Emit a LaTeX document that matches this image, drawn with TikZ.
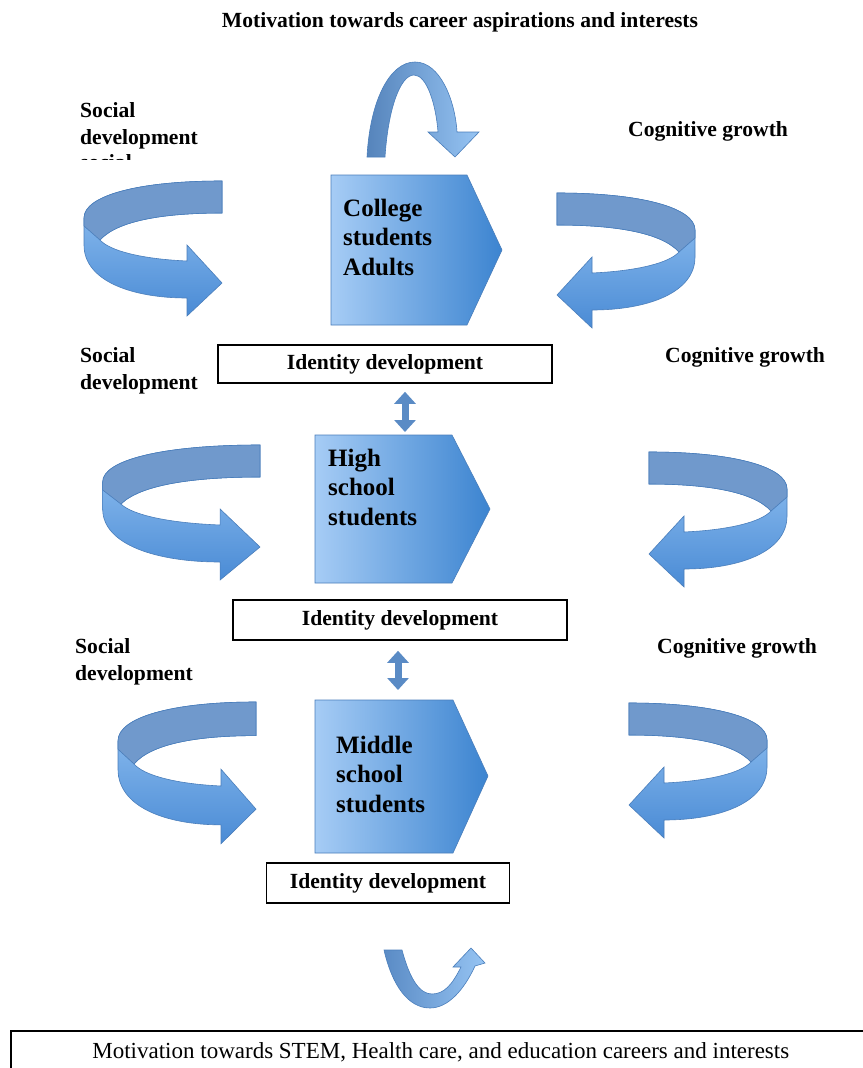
\documentclass[tikz,border=0pt]{standalone}
\usepackage{fontspec}
\setmainfont{Liberation Serif}
\usetikzlibrary{arrows.meta}

\definecolor{shapeline}{HTML}{4A7EBB}
\definecolor{stageleft}{HTML}{A6CCF5}
\definecolor{stageright}{HTML}{3C84D0}
\definecolor{frontlight}{HTML}{96C4F3}
\definecolor{frontdark}{HTML}{4A8BD5}
\definecolor{backband}{HTML}{7099CC}
\definecolor{arrowblue}{HTML}{5A8BC5}

\begin{document}
\begin{tikzpicture}[x=1pt,y=-1pt,
  label text/.style={font=\fontsize{21.6}{27}\selectfont\bfseries,align=left,anchor=west,inner sep=0pt},
  stage text/.style={font=\fontsize{25}{29.5}\selectfont\bfseries,align=left,anchor=west,inner sep=0pt},
  id box/.style={draw,line width=1.6pt,inner sep=0pt,font=\fontsize{21.6}{26}\selectfont\bfseries},
  stage/.style={draw=shapeline,line width=0.6pt,left color=stageleft,right color=stageright},
  front/.style={draw=shapeline,line width=0.6pt,top color=frontlight,bottom color=frontdark},
  back/.style={draw=shapeline,line width=0.6pt,fill=backband},
  twoway/.style={{Triangle[width=21pt,length=12pt]}-{Triangle[width=21pt,length=12pt]},line width=7pt,draw=arrowblue},
  turnarrow/.pic={
    \path[front] (0,0) .. controls (-85,0) and (-138,15) .. (-138,37) -- (-138,64)
      .. controls (-138,100) and (-90,117) .. (-35,117) -- (-35,135) -- (0,102) -- (-35,64) -- (-35,80)
      .. controls (-80,78) and (-112,70) .. (-122,59) .. controls (-105,40) and (-60,32) .. (0,32) -- cycle;
    \path[back] (0,0) .. controls (-85,0) and (-138,15) .. (-138,37) -- (-138,45) -- (-122,59)
      .. controls (-105,40) and (-60,32) .. (0,32) -- cycle;
  }]

\useasboundingbox[fill=white] (0,0) rectangle (862,1068);

% top text and arc arrow
\node[label text,anchor=center] (title) at (460,22) {Motivation towards career aspirations and interests};
\path[draw=shapeline,line width=0.6pt,left color=arrowblue!95!black,right color=frontlight]
  (367,157) .. controls (370,100) and (390,62) .. (415,62) .. controls (440,62) and (455,100) .. (457,132)
  -- (479,132) -- (455,157) -- (428,132) -- (438,132)
  .. controls (436,105) and (427,75) .. (414,75) .. controls (400,75) and (388,110) .. (385,157) -- cycle;

% stages
\path[stage] (331,175) -- (467,175) -- (502,250) -- (467,325) -- (331,325) -- cycle;
\path[stage] (315,435) -- (452,435) -- (490,509) -- (452,583) -- (315,583) -- cycle;
\path[stage] (315,700) -- (453,700) -- (488,776) -- (453,853) -- (315,853) -- cycle;
\coordinate (hightop) at (405,435);
\coordinate (middletop) at (398,700);

\node[stage text] (college) at (343,237) {College\\students\\Adults};
\node[stage text] (high) at (328,487) {High\\school\\students};
\node[stage text] (middle) at (336,774) {Middle\\school\\students};

% side arrows
\pic at (222,181) {turnarrow};
\pic[xscale=-1] at (557,193) {turnarrow};
\pic[xscale=1.14] at (260,445) {turnarrow};
\pic[xscale=-1] at (649,452) {turnarrow};
\pic[yscale=1.05] at (256,702) {turnarrow};
\pic[xscale=-1] at (629,703) {turnarrow};

% side labels
\node[label text] (social1) at (80,126) {Social\\development};
\begin{scope}
  \clip (60,150) rectangle (220,159.5);
  \node[label text,anchor=base west] (socialcut) at (80,169) {social};
\end{scope}
\node[label text] (cognitive1) at (628,131) {Cognitive growth};
\node[label text] (social2) at (80,371) {Social\\development};
\node[label text] (cognitive2) at (665,357) {Cognitive growth};
\node[label text] (social3) at (75,662) {Social\\development};
\node[label text] (cognitive3) at (657,648) {Cognitive growth};

% identity boxes
\node[id box,minimum width=334pt,minimum height=38pt] (idbox1) at (385,364) {Identity development};
\node[id box,minimum width=334pt,minimum height=40pt] (idbox2) at (400,620) {Identity development};
\node[id box,minimum width=243pt,minimum height=40pt] (idbox3) at (388,883) {Identity development};

\draw[twoway,shorten <=8pt,shorten >=3pt] (idbox1.south -| hightop) -- (hightop);
\draw[twoway,shorten <=10pt,shorten >=10pt] (idbox2.south -| middletop) -- (middletop);

% bottom U arrow and box
\path[draw=shapeline,line width=0.6pt,left color=arrowblue,right color=frontlight]
  (384,950) .. controls (392,985) and (408,1008) .. (430,1008) .. controls (448,1008) and (464,990) .. (475,966)
  -- (485,963) -- (471,948) -- (453,967) -- (461,967)
  .. controls (452,985) and (444,994) .. (432,994) .. controls (420,994) and (410,980) .. (402,950) -- cycle;
\node[id box,anchor=north west,minimum width=860pt,minimum height=42pt,font=\fontsize{23}{27}\selectfont] (careers) at (10,1030) {Motivation towards STEM, Health care, and education careers and interests};

\end{tikzpicture}
\end{document}
